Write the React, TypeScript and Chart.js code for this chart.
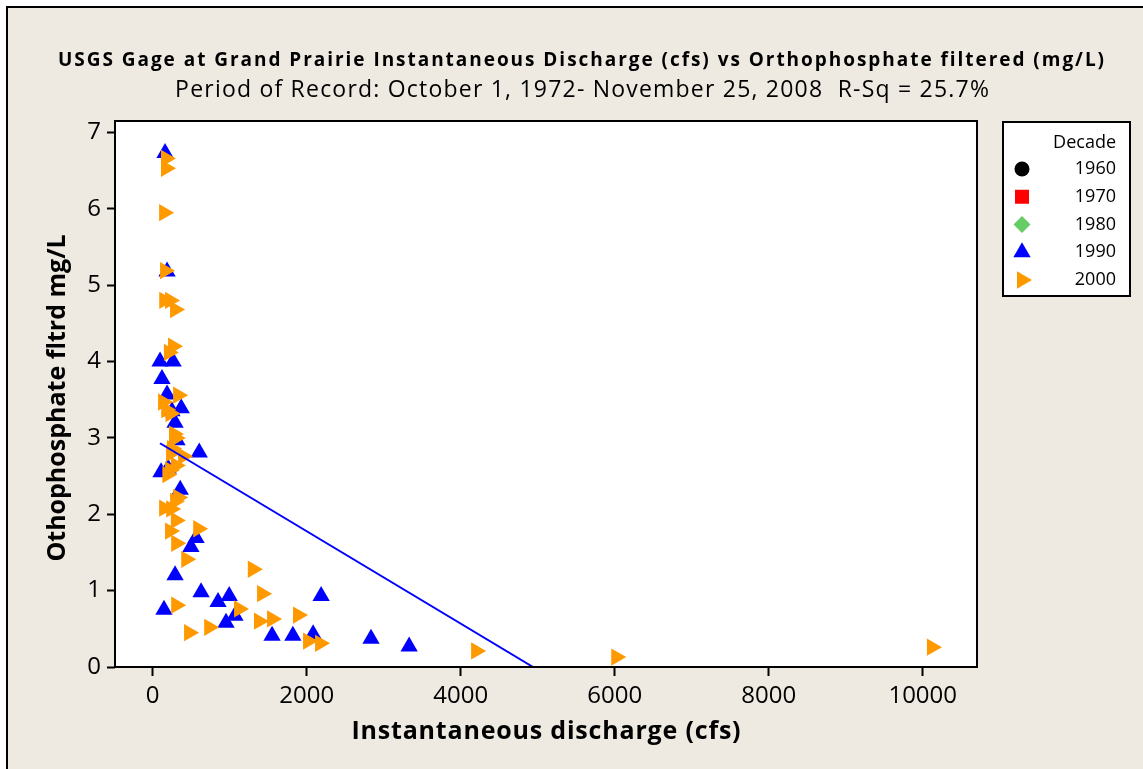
import React, { useEffect, useRef } from "react";
import { Chart, registerables } from "chart.js";

Chart.register(...registerables);

const TITLE_LINE_1 =
  "USGS Gage at Grand Prairie Instantaneous Discharge (cfs) vs Orthophosphate filtered (mg/L)";
const TITLE_LINE_2 = "Period of Record: October 1, 1972- November 25, 2008  R-Sq = 25.7%";
const X_AXIS_TITLE = "Instantaneous discharge (cfs)";
const Y_AXIS_TITLE = "Othophosphate fltrd mg/L";
const LEGEND_TITLE = "Decade";
const DECADES = ["1960", "1970", "1980", "1990", "2000"];
const X_TICKS = [0, 2000, 4000, 6000, 8000, 10000];
const Y_TICKS = [0, 1, 2, 3, 4, 5, 6, 7];

const D1960_X: number[] = [];
const D1960_Y: number[] = [];
const D1970_X: number[] = [];
const D1970_Y: number[] = [];
const D1980_X: number[] = [];
const D1980_Y: number[] = [];

const D1990_X = [
  160, 186, 95, 264, 120, 186, 370, 250, 290, 315, 604, 108, 200, 357, 563, 496, 290, 628, 993, 848,
  146, 1068, 952, 2187, 1550, 1820, 2083, 2835, 3330,
];
const D1990_Y = [
  6.73, 5.18, 4.0, 4.0, 3.77, 3.57, 3.39, 3.35, 3.2, 2.97, 2.81, 2.55, 2.6, 2.32, 1.69, 1.57, 1.2, 0.98, 0.93,
  0.85, 0.75, 0.67, 0.58, 0.93, 0.41, 0.41, 0.43, 0.37, 0.27,
];

const D2000_X = [
  172, 172, 148, 160, 150, 225, 290, 264, 210, 330, 134, 175, 230, 276, 300, 250, 238, 394, 225, 300, 190,
  330, 290, 148, 240, 300, 225, 590, 305, 435, 1300, 1420, 305, 1121, 1887, 1380, 1550, 733, 472, 2017,
  2173, 4200, 6020, 10120,
];
const D2000_Y = [
  6.66, 6.53, 5.95, 5.19, 4.8, 4.8, 4.68, 4.2, 4.12, 3.56, 3.47, 3.37, 3.32, 3.05, 3.0, 2.86, 2.8, 2.76,
  2.58, 2.64, 2.52, 2.22, 2.17, 2.08, 2.07, 1.92, 1.78, 1.81, 1.62, 1.41, 1.28, 0.96, 0.81, 0.76, 0.68, 0.6,
  0.63, 0.52, 0.45, 0.34, 0.31, 0.21, 0.13, 0.26,
];

const FIT_X = [95, 4940];
const FIT_Y = [2.93, 0];

const SERIES_X = [D1960_X, D1970_X, D1980_X, D1990_X, D2000_X];
const SERIES_Y = [D1960_Y, D1970_Y, D1980_Y, D1990_Y, D2000_Y];

const DECADE_COLORS = ["#000000", "#FF0000", "#66CC66", "#0000FF", "#FF9900"];
const DECADE_SHAPES = ["circle", "rect", "rectRot", "triangle", "triangle"];
const DECADE_ROTATIONS = [0, 0, 0, 0, 90];
const LEGEND_SIZES = [7.5, 7, 8.5, 10, 10];
const BG = "#EEEAE1";
const FONT = '"Open Sans", "Noto Sans", sans-serif';

function drawMarker(ctx: CanvasRenderingContext2D, shape: string, rot: number, x: number, y: number, r: number, color: string) {
  ctx.save();
  ctx.fillStyle = color;
  ctx.beginPath();
  if (shape === "circle") {
    ctx.arc(x, y, r, 0, Math.PI * 2);
  } else if (shape === "rect") {
    ctx.rect(x - r, y - r, 2 * r, 2 * r);
  } else if (shape === "rectRot") {
    ctx.moveTo(x, y - r);
    ctx.lineTo(x + r, y);
    ctx.lineTo(x, y + r);
    ctx.lineTo(x - r, y);
    ctx.closePath();
  } else {
    let a = (rot * Math.PI) / 180;
    for (let k = 0; k < 3; k++) {
      const px = x + Math.sin(a) * r;
      const py = y - Math.cos(a) * r;
      if (k === 0) ctx.moveTo(px, py);
      else ctx.lineTo(px, py);
      a += (2 * Math.PI) / 3;
    }
    ctx.closePath();
  }
  ctx.fill();
  ctx.restore();
}

function fitText(ctx: CanvasRenderingContext2D, text: string, cx: number, y: number, target: number) {
  const c = ctx as any;
  c.letterSpacing = "0px";
  const w = ctx.measureText(text).width;
  const ls = (target - w) / text.length;
  c.letterSpacing = ls + "px";
  ctx.textAlign = "center";
  ctx.fillText(text, cx + ls / 2, y);
  c.letterSpacing = "0px";
}

const decorPlugin = {
  id: "decor",
  beforeDraw(chart: any) {
    const { ctx, width, height, chartArea: a } = chart;
    ctx.save();
    ctx.fillStyle = "#FFFFFF";
    ctx.fillRect(0, 0, width, height);
    ctx.fillStyle = BG;
    ctx.fillRect(7, 7, width, height);
    ctx.strokeStyle = "#000";
    ctx.lineWidth = 2;
    ctx.beginPath();
    ctx.moveTo(7, height);
    ctx.lineTo(7, 7);
    ctx.lineTo(width, 7);
    ctx.stroke();
    ctx.fillStyle = "#FFFFFF";
    ctx.fillRect(a.left, a.top, a.right - a.left, a.bottom - a.top);
    ctx.restore();
  },
  afterDraw(chart: any) {
    const { ctx, chartArea: a } = chart;
    ctx.save();
    // plot frame
    ctx.strokeStyle = "#000";
    ctx.lineWidth = 2;
    ctx.strokeRect(a.left, a.top, a.right - a.left, a.bottom - a.top);

    // titles
    ctx.fillStyle = "#000";
    ctx.textBaseline = "alphabetic";
    ctx.font = "bold 19px " + FONT;
    fitText(ctx, TITLE_LINE_1, 581, 66, 1048);
    ctx.font = "23px " + FONT;
    fitText(ctx, TITLE_LINE_2, 582, 97, 815);

    // axis titles
    ctx.font = "bold 25px " + FONT;
    fitText(ctx, X_AXIS_TITLE, (a.left + a.right) / 2, 739, 390);
    ctx.save();
    ctx.translate(65, 398);
    ctx.rotate(-Math.PI / 2);
    ctx.textAlign = "center";
    ctx.fillText(Y_AXIS_TITLE, 0, 0);
    ctx.restore();

    // legend
    const bx = a.right + 26;
    const by = a.top + 1;
    const bw = 127;
    const bh = 174;
    ctx.fillStyle = "#FFFFFF";
    ctx.fillRect(bx, by, bw, bh);
    ctx.strokeRect(bx, by, bw, bh);
    ctx.fillStyle = "#000";
    ctx.font = "18px " + FONT;
    ctx.textAlign = "right";
    ctx.textBaseline = "middle";
    ctx.fillText(LEGEND_TITLE, bx + 113, by + 21);
    const items = chart.data.datasets.filter((d: any) => d.decade !== undefined);
    items.forEach((d: any, i: number) => {
      const y = by + 47 + i * 27.75;
      const k = d.decade;
      drawMarker(ctx, d.pointStyle, d.pointRotation, bx + 19, y, LEGEND_SIZES[k], d.backgroundColor);
      ctx.fillStyle = "#000";
      ctx.fillText(d.label, bx + 113, y);
    });
    ctx.restore();
  },
};

export default function App() {
  const ref = useRef<HTMLCanvasElement | null>(null);

  useEffect(() => {
    if (!ref.current) return;
    const datasets: any[] = DECADES.map((label, i) => ({
      label,
      decade: i,
      data: SERIES_X[i].map((x, j) => ({ x, y: SERIES_Y[i][j] })),
      pointStyle: DECADE_SHAPES[i],
      pointRotation: DECADE_ROTATIONS[i],
      backgroundColor: DECADE_COLORS[i],
      borderColor: DECADE_COLORS[i],
      pointRadius: 10,
      pointBorderWidth: 0,
      order: DECADES.length - i,
    }));
    datasets.push({
      label: "Fit",
      data: FIT_X.map((x, j) => ({ x, y: FIT_Y[j] })),
      showLine: true,
      borderColor: "#0000FF",
      borderWidth: 2,
      pointRadius: 0,
      order: 0,
    });

    const tickFont = { family: FONT, size: 24 };
    const chart = new Chart(ref.current, {
      type: "scatter",
      data: { datasets },
      plugins: [decorPlugin],
      options: {
        responsive: false,
        animation: false,
        events: [],
        layout: { padding: { left: 0, top: 121, right: 166, bottom: 0 } },
        plugins: {
          legend: { display: false },
          title: { display: false },
          tooltip: { enabled: false },
        },
        scales: {
          x: {
            type: "linear",
            min: -490,
            max: 10705,
            afterFit: (s: any) => {
              s.height = 102;
            },
            afterBuildTicks: (s: any) => {
              s.ticks = X_TICKS.map((v) => ({ value: v }));
            },
            grid: { drawOnChartArea: false, drawTicks: true, tickLength: 9, tickWidth: 2, tickColor: "#000", color: "#000" },
            border: { display: false },
            ticks: { font: tickFont, color: "#000", padding: 6, maxRotation: 0, autoSkip: false, callback: (v: any) => String(v) },
          },
          y: {
            type: "linear",
            min: 0,
            max: 7.15,
            afterFit: (s: any) => {
              s.width = 115;
            },
            afterBuildTicks: (s: any) => {
              s.ticks = Y_TICKS.map((v) => ({ value: v }));
            },
            grid: { drawOnChartArea: false, drawTicks: true, tickLength: 8, tickWidth: 2, tickColor: "#000", color: "#000" },
            border: { display: false },
            ticks: { font: tickFont, color: "#000", padding: 6, autoSkip: false, callback: (v: any) => String(v) },
          },
        },
      } as any,
    });
    return () => chart.destroy();
  }, []);

  return (
    <div style={{ position: "fixed", left: 0, top: 0, width: 1143, height: 769 }}>
      <canvas ref={ref} width={1143} height={769} style={{ display: "block", width: 1143, height: 769 }} />
    </div>
  );
}
